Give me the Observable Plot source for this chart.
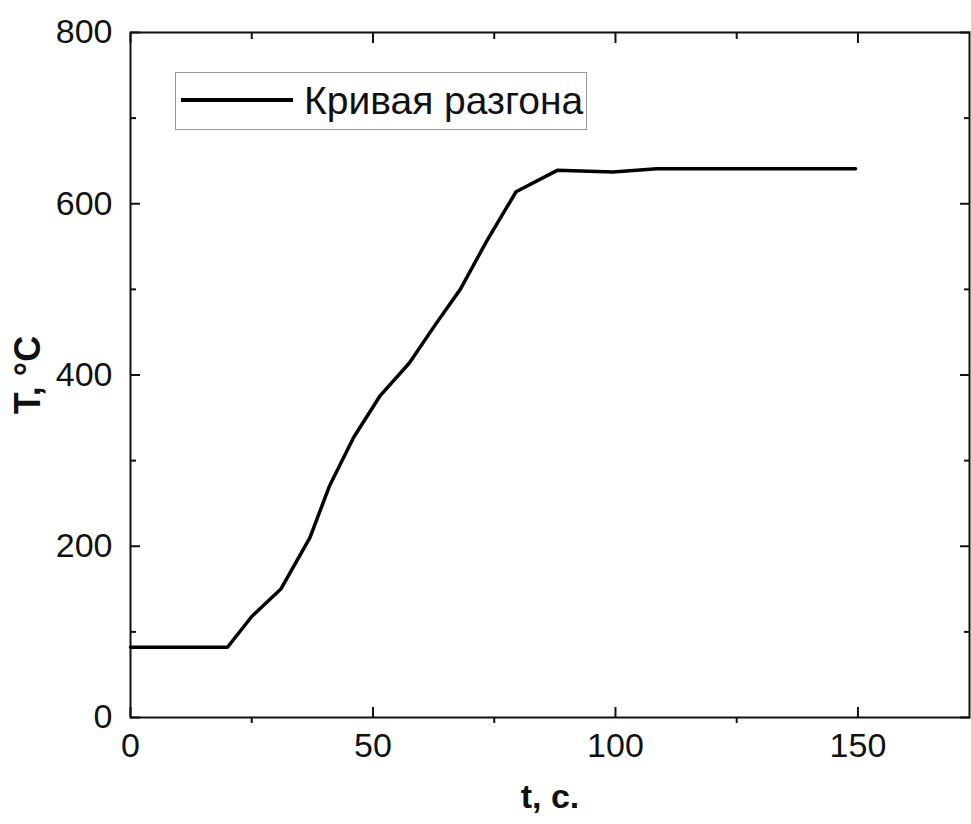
<!DOCTYPE html>
<html>
<head>
<meta charset="utf-8">
<script src="https://cdn.jsdelivr.net/npm/d3@7"></script>
<script src="https://cdn.jsdelivr.net/npm/@observablehq/plot@0.6"></script>
<style>
  html, body { margin: 0; padding: 0; background: #fff; }
  #wrap { position: relative; width: 971px; height: 824px; font-family: "Liberation Sans", Arial, sans-serif; }
  #legend { position: absolute; left: 175px; top: 72px; width: 410px; height: 56px; border: 1.5px solid #9a9a9a; background: #fff; }
  #legend svg { position: absolute; left: 0; top: 0; }
  #legend span { position: absolute; left: 128px; top: 6px; font-size: 39px; line-height: 44px; color: #111; white-space: nowrap; }
</style>
</head>
<body>
<div id="wrap"></div>
<script>
const times = [0, 20, 25, 31, 37, 41, 46, 51.5, 57.5, 63, 68, 73.5, 79.5, 88, 99.5, 108.5, 149.5];
const temps = [82, 82, 118, 150, 210, 270, 327, 376, 414, 460, 500, 557, 614, 639, 637, 641, 641];
const seriesName = "Кривая разгона";
const xMajor = [0, 50, 100, 150];
const xMinor = [25, 75, 125];
const yMajor = [0, 200, 400, 600, 800];
const yMinor = [100, 300, 500, 700];
const xLabel = "t, с.";
const yLabel = "T, °C";

const data = times.map((t, i) => ({t, T: temps[i]}));
const font = "Liberation Sans, Arial, sans-serif";

const chart = Plot.plot({
  width: 971,
  height: 824,
  marginLeft: 130,
  marginRight: 2,
  marginTop: 32,
  marginBottom: 107,
  style: {fontFamily: font, color: "#111", background: "#fff", overflow: "visible"},
  x: {domain: [0, 173]},
  y: {domain: [0, 800]},
  marks: [
    Plot.frame({stroke: "#111", strokeWidth: 2}),
    // labels
    Plot.axisX(xMajor, {tickSize: 0, tickPadding: 15, fontSize: 34, label: null}),
    Plot.axisY(yMajor, {tickSize: 0, tickPadding: 18, fontSize: 34, label: null}),
    // major ticks inward
    Plot.axisX(xMajor, {tickSize: -10, tickFormat: () => "", label: null, strokeWidth: 2}),
    Plot.axisX(xMajor, {anchor: "top", tickSize: -10, tickFormat: () => "", label: null, strokeWidth: 2}),
    Plot.axisY(yMajor, {tickSize: -10, tickFormat: () => "", label: null, strokeWidth: 2}),
    Plot.axisY(yMajor, {anchor: "right", tickSize: -10, tickFormat: () => "", label: null, strokeWidth: 2}),
    // minor ticks
    Plot.axisX(xMinor, {tickSize: 6, tickFormat: () => "", label: null, strokeWidth: 2}),
    Plot.axisX(xMinor, {anchor: "top", tickSize: -6, tickFormat: () => "", label: null, strokeWidth: 2}),
    Plot.axisY(yMinor, {tickSize: -6, tickFormat: () => "", label: null, strokeWidth: 2}),
    Plot.axisY(yMinor, {anchor: "right", tickSize: -6, tickFormat: () => "", label: null, strokeWidth: 2}),
    // data line
    Plot.line(data, {x: "t", y: "T", stroke: "#000", strokeWidth: 3.5, strokeLinejoin: "round"}),
    // axis titles
    Plot.text([xLabel], {text: d => d, frameAnchor: "bottom", textAnchor: "middle", lineAnchor: "bottom", dy: 90, fontSize: 34, fontWeight: "bold", fill: "#111"}),
    Plot.text([yLabel], {text: d => d, frameAnchor: "left", textAnchor: "middle", lineAnchor: "middle", dx: -102, rotate: -90, fontSize: 36, fontWeight: "bold", fill: "#111"})
  ]
});

const wrap = document.getElementById("wrap");
wrap.appendChild(chart);

const legend = document.createElement("div");
legend.id = "legend";
legend.innerHTML = `<svg width="130" height="56"><line x1="5" x2="117" y1="27" y2="27" stroke="#000" stroke-width="4"/></svg><span>${seriesName}</span>`;
wrap.appendChild(legend);
</script>
</body>
</html>
